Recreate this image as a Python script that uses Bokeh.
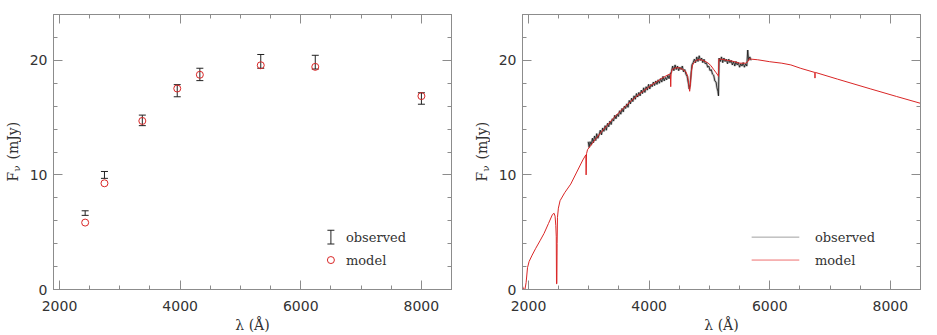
import math
from bokeh.plotting import figure
from bokeh.models import Range1d, LinearAxis, FixedTicker, Label, ColumnDataSource
from bokeh.layouts import row
from bokeh.embed import file_html
from bokeh.resources import INLINE

# ---------------- data ----------------
# Left panel: broad-band photometry
phot_wl = [2425, 2745, 3373, 3952, 4327, 5337, 6241, 8001]
phot_obs = [6.67, 10.0, 14.76, 17.35, 18.77, 19.91, 19.84, 16.67]
phot_err = [0.20, 0.30, 0.46, 0.53, 0.54, 0.60, 0.60, 0.50]
phot_model = [5.84, 9.27, 14.71, 17.54, 18.74, 19.57, 19.43, 16.88]

# Right panel: model spectrum
model_wl = [1900, 1915, 1940, 1960, 1983, 2010, 2060, 2120, 2190, 2258,
            2330, 2397, 2424, 2440, 2452, 2460, 2464, 2470, 2474, 2480,
            2495, 2523, 2600, 2700, 2800, 2900, 2950, 2955, 2958, 2962,
            2978, 3050, 3100, 3200, 3300, 3400, 3500, 3600, 3700, 3800,
            3900, 4000, 4100, 4200, 4300, 4340, 4352, 4358, 4364, 4380,
            4440, 4500, 4560, 4610, 4640, 4660, 4672, 4685, 4700, 4720,
            4760, 4800, 4860, 4912, 4970, 5023, 5070, 5106, 5140, 5150,
            5156, 5200, 5300, 5400, 5500, 5600, 5640, 5660, 5700, 5800,
            6000, 6200, 6350, 6515, 6736, 6748, 6750, 6753, 6760, 7124,
            7676, 8100, 8500]
model_flux = [0.30, 0.05, 0.00, 0.60, 1.90, 2.45, 3.00, 3.60, 4.25, 4.90,
              5.75, 6.55, 6.65, 6.40, 5.60, 4.60, 0.50, 0.50, 4.00, 6.30,
              7.10, 7.75, 8.45, 9.20, 10.25, 11.30, 11.75, 10.00, 10.60, 11.85,
              12.20, 12.70, 13.05, 13.70, 14.30, 14.90, 15.45, 15.95, 16.45, 16.90,
              17.30, 17.70, 18.05, 18.40, 18.70, 18.80, 18.70, 17.70, 18.80, 19.20,
              19.35, 19.35, 19.20, 19.00, 18.60, 17.80, 17.30, 17.90, 19.00, 19.60,
              19.90, 20.05, 20.05, 19.95, 19.80, 19.55, 19.20, 18.95, 18.70, 18.60,
              20.10, 20.10, 20.00, 19.90, 19.75, 19.75, 19.90, 20.15, 20.10, 20.05,
              19.88, 19.75, 19.60, 19.30, 18.96, 18.95, 18.45, 18.95, 18.94, 18.36,
              17.50, 16.85, 16.25]

# Right panel: observed spectrum
obs_wl = [2990, 3005, 3020, 3040, 3060, 3075, 3095, 3115, 3130, 3150,
          3170, 3190, 3210, 3230, 3250, 3270, 3290, 3310, 3330, 3350,
          3370, 3390, 3410, 3430, 3450, 3470, 3490, 3510, 3530, 3550,
          3570, 3590, 3610, 3630, 3650, 3670, 3690, 3710, 3730, 3750,
          3770, 3790, 3810, 3830, 3850, 3870, 3890, 3910, 3930, 3950,
          3970, 3990, 4010, 4030, 4050, 4070, 4090, 4110, 4130, 4150,
          4170, 4190, 4210, 4230, 4250, 4270, 4290, 4310, 4330, 4350,
          4370, 4390, 4410, 4430, 4450, 4470, 4490, 4510, 4530, 4550,
          4570, 4590, 4610, 4630, 4650, 4665, 4680, 4695, 4710, 4730,
          4750, 4770, 4790, 4810, 4830, 4850, 4870, 4890, 4910, 4930,
          4950, 4970, 4990, 5010, 5030, 5050, 5070, 5090, 5110, 5125,
          5140, 5150, 5160, 5180, 5200, 5220, 5240, 5260, 5280, 5300,
          5320, 5340, 5360, 5380, 5400, 5420, 5440, 5460, 5480, 5500,
          5520, 5540, 5560, 5580, 5600, 5620, 5635, 5650, 5670, 5690]
obs_flux = [12.9, 12.4, 12.9, 12.6, 13.2, 12.8, 13.4, 13.0, 13.6, 13.2,
            13.5, 13.9, 13.5, 14.1, 13.8, 14.3, 13.9, 14.5, 14.2, 14.7,
            14.4, 14.9, 14.7, 15.2, 14.9, 15.3, 15.1, 15.6, 15.3, 15.8,
            15.5, 16.0, 15.8, 16.2, 15.9, 16.5, 16.2, 16.7, 16.4, 16.9,
            16.6, 17.1, 16.8, 17.2, 16.9, 17.4, 17.1, 17.6, 17.2, 17.7,
            17.4, 17.9, 17.5, 17.9, 17.7, 18.1, 17.8, 18.2, 17.9, 18.3,
            18.0, 18.4, 18.1, 18.6, 18.2, 18.5, 18.3, 18.7, 18.4, 18.8,
            19.0, 19.5, 19.1, 19.6, 19.2, 19.5, 19.1, 19.4, 19.2, 19.5,
            19.0, 19.2, 18.8, 18.6, 18.0, 17.5, 17.9, 18.8, 19.6, 19.8,
            20.1, 19.8, 20.3, 19.9, 20.4, 20.0, 20.2, 19.8, 20.1, 19.7,
            19.8, 19.4, 19.5, 19.1, 19.2, 18.8, 18.7, 18.2, 18.1, 17.6,
            17.3, 16.9, 20.2, 19.9, 20.3, 19.8, 20.2, 19.9, 20.1, 19.7,
            20.1, 19.8, 20.0, 19.6, 19.9, 19.5, 19.9, 19.6, 19.8, 19.4,
            19.7, 19.5, 19.8, 19.4, 19.7, 19.5, 20.9, 20.0, 20.3, 20.0]

x_major = [2000, 4000, 6000, 8000]
x_minor = [2000, 2500, 3000, 3500, 4000, 4500, 5000, 5500, 6000, 6500, 7000, 7500, 8000, 8500]
y_major = [0, 10, 20]
y_minor = [0, 2, 4, 6, 8, 10, 12, 14, 16, 18, 20, 22, 24]
legend_labels = ["observed", "model"]
ytitle_parts = ["F", "ν", "(mJy)"]

assert len(model_wl) == len(model_flux)
assert len(obs_wl) == len(obs_flux)

# ---------------- styling ----------------
AX = "#8c8c8c"
TXT = "#333333"
RED = "#d92626"
NUMFONT = "DejaVu Sans"
WORDFONT = "DejaVu Serif"
H = 335

# legend layout (in data units of the panels)
LEG_KEY_X = 6500
LEG_TEXT_X = 6750
LEG_ROW_Y = [4.57, 2.57]
LEG_LINE_X = [5700, 6490]


def style_axis(ax, labels):
    ax.axis_line_color = AX
    ax.major_tick_line_color = AX
    ax.minor_tick_line_color = AX
    ax.major_tick_in = 9
    ax.major_tick_out = 0
    ax.minor_tick_in = 4
    ax.minor_tick_out = 0
    if labels:
        ax.major_label_text_font = NUMFONT
        ax.major_label_text_font_size = "14px"
        ax.major_label_text_color = TXT
    else:
        ax.major_label_text_color = None
        ax.major_label_text_font_size = "1px"
        ax.major_label_standoff = 0


def make_ytitle(width, xc):
    """Narrow strip that carries the rotated y-axis title F_nu (mJy)."""
    t = figure(width=width, height=H, x_range=Range1d(0, 1), y_range=Range1d(0, 1),
               output_backend="svg", toolbar_location=None,
               x_axis_location=None, y_axis_location=None,
               min_border=0, min_border_left=0, min_border_right=0,
               min_border_top=0, min_border_bottom=0)
    t.grid.visible = False
    t.outline_line_color = None
    common = dict(x_units="screen", y_units="screen", angle=math.pi / 2,
                  text_font=WORDFONT, text_color=TXT, text_align="left", text_baseline="middle")
    t.add_layout(Label(x=xc, y=108, text=ytitle_parts[0], text_font_size="14px", **common))
    t.add_layout(Label(x=xc + 4, y=118, text=ytitle_parts[1], text_font_size="10px", **common))
    t.add_layout(Label(x=xc, y=130, text=ytitle_parts[2], text_font_size="14px", **common))
    return t


def make_panel(width, ml, mr):
    p = figure(width=width, height=H, x_range=Range1d(1900, 8500), y_range=Range1d(0, 24),
               output_backend="svg", toolbar_location=None,
               min_border_left=ml, min_border_right=mr, min_border_top=14, min_border_bottom=42)
    p.grid.visible = False
    p.outline_line_color = AX
    p.background_fill_color = "white"
    p.border_fill_color = "white"
    xt = FixedTicker(ticks=x_major, minor_ticks=x_minor)
    yt = FixedTicker(ticks=y_major, minor_ticks=y_minor)
    xb = p.below[0]
    yl = p.left[0]
    xb.ticker = xt
    yl.ticker = yt
    style_axis(xb, True)
    style_axis(yl, True)
    xb.major_label_standoff = 11
    yl.major_label_standoff = 6
    xb.axis_label = "λ (Å)"
    xb.axis_label_text_font = WORDFONT
    xb.axis_label_text_font_style = "normal"
    xb.axis_label_text_font_size = "14px"
    xb.axis_label_text_color = TXT
    xb.axis_label_standoff = 3
    xa = LinearAxis(ticker=xt)
    ya = LinearAxis(ticker=yt)
    style_axis(xa, False)
    style_axis(ya, False)
    p.add_layout(xa, "above")
    p.add_layout(ya, "right")
    return p


# ---------------- left panel ----------------
t1 = make_ytitle(21, 12)
p1 = make_panel(447, 32, 17)
src = ColumnDataSource(dict(
    wl=phot_wl,
    lo=[o - e for o, e in zip(phot_obs, phot_err)],
    hi=[o + e for o, e in zip(phot_obs, phot_err)],
    model=phot_model,
))
p1.segment(x0="wl", x1="wl", y0="lo", y1="hi", source=src, line_color="#222222", line_width=1)
p1.scatter(x="wl", y="lo", source=src, marker="dash", size=7, line_color="#222222", line_width=1)
p1.scatter(x="wl", y="hi", source=src, marker="dash", size=7, line_color="#222222", line_width=1)
p1.scatter(x="wl", y="model", source=src, marker="circle", size=7, fill_color=None,
           line_color=RED, line_width=1)

# legend (left)
p1.segment(x0=[LEG_KEY_X], x1=[LEG_KEY_X], y0=[LEG_ROW_Y[0] - 0.6], y1=[LEG_ROW_Y[0] + 0.6],
           line_color="#222222", line_width=1)
p1.scatter(x=[LEG_KEY_X, LEG_KEY_X], y=[LEG_ROW_Y[0] - 0.6, LEG_ROW_Y[0] + 0.6], marker="dash",
           size=7, line_color="#222222", line_width=1)
p1.scatter(x=[LEG_KEY_X], y=[LEG_ROW_Y[1]], marker="circle", size=7, fill_color=None,
           line_color=RED, line_width=1)
for lab, yy in zip(legend_labels, LEG_ROW_Y):
    p1.add_layout(Label(x=LEG_TEXT_X, y=yy, text=lab, text_font=WORDFONT, text_font_size="13px",
                        text_color=TXT, text_baseline="middle", text_align="left"))

# ---------------- right panel ----------------
t2 = make_ytitle(22, 13)
p2 = make_panel(447, 32, 17)
p2.line(obs_wl, obs_flux, line_color="#9a9a9a", line_width=2.4, line_alpha=0.6)
p2.line(obs_wl, obs_flux, line_color="#111111", line_width=0.8)
p2.line(model_wl, model_flux, line_color=RED, line_width=1)

# legend (right)
p2.segment(x0=[LEG_LINE_X[0]], x1=[LEG_LINE_X[1]], y0=[LEG_ROW_Y[0]], y1=[LEG_ROW_Y[0]],
           line_color="#a0a0a0", line_width=1)
p2.segment(x0=[LEG_LINE_X[0]], x1=[LEG_LINE_X[1]], y0=[LEG_ROW_Y[1]], y1=[LEG_ROW_Y[1]],
           line_color="#ee7070", line_width=1)
for lab, yy in zip(legend_labels, LEG_ROW_Y):
    p2.add_layout(Label(x=LEG_TEXT_X, y=yy, text=lab, text_font=WORDFONT, text_font_size="13px",
                        text_color=TXT, text_baseline="middle", text_align="left"))

layout = row(t1, p1, t2, p2)
open("out.html", "w").write(file_html(layout, INLINE))
